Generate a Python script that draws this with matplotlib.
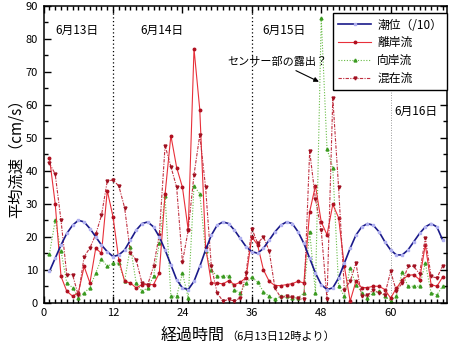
import matplotlib
matplotlib.use("Agg")
import matplotlib.pyplot as plt
from matplotlib.ticker import MultipleLocator

plt.rcParams['font.family'] = ['Noto Sans CJK JP', 'DejaVu Sans']

hours = list(range(1, 70))

tide = [9.5, 13.5, 17.5, 21, 23.5, 25, 24.5, 22.5, 20, 17.5,
        15.5, 14, 14.5, 16, 19, 22, 24, 24.5, 23, 20,
        16, 11.5, 7, 4.5, 4, 6.5, 11, 16, 20.5, 23.5,
        24.5, 24, 22, 19.5, 17, 15.5, 15, 16.5, 19, 21.5,
        23.5, 24.5, 24, 21.5, 18, 13.5, 9, 5.5, 4, 4.5,
        7.5, 12, 16.5, 20.5, 23, 24, 23.5, 21.5, 18.5, 16,
        14.5, 14.5, 16, 18.5, 21, 23, 24, 23, 19]

rip = [44, 30, 8, 3.5, 2, 3, 11, 6, 16.5, 15,
       34, 26, 13, 6.5, 6, 4.5, 5.5, 5.5, 5.5, 9,
       33, 50.7, 41, 35, 22, 77, 58.5, 17, 6, 6,
       5.7, 6.7, 5.5, 6.2, 7.6, 20, 17.5, 10, 6.5, 5.2,
       5.2, 5.5, 5.8, 6.5, 6, 27.6, 35.5, 24.5, 20.6, 29.8,
       25.8, 11, 0.5, 6.5, 4.6, 4.6, 5, 5, 4, 1.4,
       4.4, 6.8, 8.3, 8.5, 7, 17.6, 5.5, 5, 7.8]

onshore = [14.8, 25, 15.7, 6, 4.6, 1.5, 3, 4.6, 9, 13.3,
           11, 12, 12, 6.6, 17, 6, 3.5, 4.5, 8, 18,
           32.3, 2, 2, 9, 1.5, 35.4, 33, 15.7, 10, 8,
           8, 8.2, 4, 3, 6, 7.8, 6.2, 3.4, 1.9, 1,
           2, 2, 1.5, 1.5, 3, 21.6, 3, 86.3, 46.6, 41,
           5, 2, 10.5, 5.5, 3, 1.5, 3, 3.5, 2, 0.5,
           2.1, 9.2, 5, 5, 5, 12, 3, 2.4, 5]

mixed = [42.3, 39, 25, 8.5, 8.5, 2.2, 14, 16.6, 20.7, 26.5,
         36.9, 37.2, 35.4, 28.8, 15.2, 13, 6, 5.5, 11, 20.6,
         47.6, 41.3, 35, 12.3, 22, 38.8, 50.9, 35, 11, 3,
         0.5, 1, 0.5, 1.5, 9, 22.5, 18, 20, 15.7, 4.4,
         1.6, 1.9, 1.6, 1.3, 1, 46, 31.4, 22, 1, 62,
         35, 4, 6.5, 12, 1.9, 2.2, 4, 3, 2.5, 9.5,
         3.5, 6, 11, 11, 8.8, 19.6, 8, 7.5, 11.2]

series_labels = ['潮位（/10）', '離岸流', '向岸流', '混在流']
day_labels = ['6月13日', '6月14日', '6月15日', '6月16日']
day_lines = [12, 36, 60]

fig = plt.figure(figsize=(4.5, 3.46), dpi=100)
ax = fig.add_axes([0.097, 0.125, 0.897, 0.858])

for xl, c, lw in zip(day_lines, ['black', 'black', '#777777'], [0.9, 0.9, 0.6]):
    ax.axvline(xl, color=c, linestyle=(0, (1, 2)), linewidth=lw, zorder=1)

ax.plot(hours, tide, color='#1a1a8a', linewidth=1.2, marker='s', markersize=1.6,
        markerfacecolor='#b0b0f0', markeredgecolor='#b0b0f0', label=series_labels[0], zorder=4)
ax.plot(hours, rip, color='#e8303a', linewidth=0.8, marker='o', markersize=1.8,
        markerfacecolor='#b01020', markeredgecolor='#b01020', label=series_labels[1], zorder=3)
ax.plot(hours, onshore, color='#66bb44', linewidth=0.8, linestyle=(0, (1, 1.5)), marker='^',
        markersize=2.1, markerfacecolor='#3a9a20', markeredgecolor='#3a9a20',
        label=series_labels[2], zorder=2)
ax.plot(hours, mixed, color='#c03040', linewidth=0.8, linestyle=(0, (3, 1.2, 1, 1.2)), marker='v',
        markersize=2.1, markerfacecolor='#a01020', markeredgecolor='#a01020',
        label=series_labels[3], zorder=3)

ax.set_xlim(0, 69.8)
ax.set_ylim(0, 90)
ax.xaxis.set_major_locator(MultipleLocator(12))
ax.xaxis.set_minor_locator(MultipleLocator(1))
ax.yaxis.set_major_locator(MultipleLocator(10))
ax.yaxis.set_minor_locator(MultipleLocator(5))
ax.tick_params(which='both', direction='in', top=True, right=True, labelsize=8, width=1.0)
ax.tick_params(which='major', length=5, pad=4)
ax.tick_params(which='minor', length=3)
for s in ax.spines.values():
    s.set_linewidth(1.1)

ax.text(5.75, 82.7, day_labels[0], fontsize=8.5, ha='center', va='center')
ax.text(20.5, 82.7, day_labels[1], fontsize=8.5, ha='center', va='center')
ax.text(41.5, 82.7, day_labels[2], fontsize=8.5, ha='center', va='center')
ax.text(64.4, 58, day_labels[3], fontsize=8.5, ha='center', va='center')

ax.annotate('センサー部の露出？', xy=(47.6, 67), xytext=(40.4, 73.1),
            fontsize=8, ha='center', va='center',
            arrowprops=dict(arrowstyle='-|>', color='black', lw=0.8,
                            mutation_scale=7, shrinkA=2, shrinkB=0))

leg = ax.legend(loc='upper right', bbox_to_anchor=(1.0, 0.975), fontsize=8.5,
                frameon=True, fancybox=False, edgecolor='black', framealpha=1,
                numpoints=1, handlelength=2.8, borderpad=0.45, labelspacing=0.4,
                handletextpad=0.5, borderaxespad=0)
leg.get_frame().set_linewidth(1.0)

ax.set_ylabel('平均流速（cm/s）', fontsize=11, labelpad=1)
fig.text(225 / 450, 1 - 336 / 346, '経過時間', fontsize=11.5, ha='right', va='center')
fig.text(226 / 450, 1 - 337 / 346, '（6月13日12時より）', fontsize=8, ha='left', va='center')

fig.savefig('out.png', dpi=100)
